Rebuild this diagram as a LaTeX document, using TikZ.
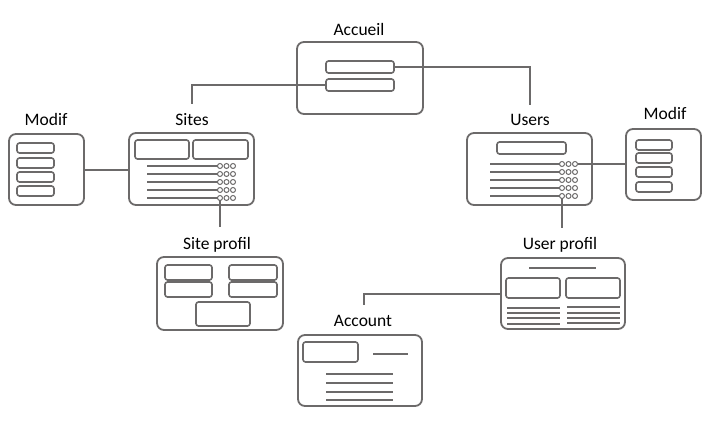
\documentclass[tikz,border=0pt]{standalone}
\usepackage{fontspec}
\setmainfont{Carlito}
\definecolor{ink}{RGB}{108,106,106}
\begin{document}
\begin{tikzpicture}[x=1pt,y=-1pt,
  frame/.style={draw=ink, line width=1.8pt, rounded corners=7pt, inner sep=0pt, outer sep=0pt, anchor=north west},
  field/.style={draw=ink, line width=1.6pt, rounded corners=2.5pt, inner sep=0pt, outer sep=0pt, anchor=north west},
  lbl/.style={font=\fontsize{17.5}{20}\selectfont, anchor=base, inner sep=0pt, text=black},
  wire/.style={draw=ink, line width=1.8pt},
  txt/.style={draw=ink, line width=1.6pt},
  dot/.style={circle, draw=ink, line width=1pt, minimum size=5pt, inner sep=0pt, outer sep=0pt}]
\useasboundingbox (0,0) rectangle (713,430);

% ---------- Accueil
\node[lbl] (accL) at (359,36) {Accueil};
\node[frame, minimum width=126pt, minimum height=72pt] (acc) at (297,42) {};
\node[field, minimum width=68pt, minimum height=12pt] (acc1) at (326,61) {};
\node[field, minimum width=68pt, minimum height=12pt] (acc2) at (326,79) {};

% ---------- Sites
\node[lbl] (sitesL) at (192,126) {Sites};
\node[frame, minimum width=125pt, minimum height=72pt] (sites) at (129,133) {};
\node[field, minimum width=54pt, minimum height=19pt] (sitesA) at (135,140) {};
\node[field, minimum width=55pt, minimum height=19pt] (sitesB) at (193,140) {};
\foreach \y/\n in {166/1,174/2,182/3,190/4,198/5}{
  \draw[txt] (147,\y) -- (217.5,\y);
  \node[dot] (sc\n a) at (220,\y) {};
  \node[dot] (sc\n b) at (226.5,\y) {};
  \node[dot] (sc\n c) at (233,\y) {};
}

% ---------- Modif (left)
\node[lbl] (modLL) at (46,126) {Modif};
\node[frame, minimum width=75pt, minimum height=71pt] (modL) at (9,134) {};
\foreach \y in {143,158,172,186}
  \node[field, minimum width=37pt, minimum height=10pt] at (17,\y) {};

% ---------- Users
\node[lbl] (usersL) at (530,126) {Users};
\node[frame, minimum width=125pt, minimum height=72pt] (users) at (467,133) {};
\node[field, minimum width=69pt, minimum height=12pt] (usersA) at (497,142) {};
\foreach \y/\n in {164/1,172/2,180/3,188/4,196/5}{
  \draw[txt] (490,\y) -- (559.5,\y);
  \node[dot] (uc\n a) at (562,\y) {};
  \node[dot] (uc\n b) at (568.5,\y) {};
  \node[dot] (uc\n c) at (575,\y) {};
}

% ---------- Modif (right)
\node[lbl] (modRL) at (665,120) {Modif};
\node[frame, minimum width=75pt, minimum height=71pt] (modR) at (626,129) {};
\foreach \y in {140,153,167,182}
  \node[field, minimum width=36pt, minimum height=10pt] at (636,\y) {};

% ---------- Site profil
\node[lbl] (spL) at (217,250) {Site profil};
\node[frame, minimum width=126pt, minimum height=73pt] (sp) at (157,257) {};
\node[field, minimum width=47pt, minimum height=15pt] at (165,265) {};
\node[field, minimum width=48pt, minimum height=15pt] at (229,265) {};
\node[field, minimum width=47pt, minimum height=15pt] at (165,282) {};
\node[field, minimum width=48pt, minimum height=15pt] at (229,282) {};
\node[field, minimum width=54pt, minimum height=24pt] at (196,302) {};

% ---------- User profil
\node[lbl] (upL) at (560,250) {User profil};
\node[frame, minimum width=124pt, minimum height=71pt] (up) at (501,258) {};
\draw[txt] (529,268) -- (596,268);
\node[field, minimum width=54pt, minimum height=20pt] at (506,278) {};
\node[field, minimum width=54pt, minimum height=20pt] at (566,278) {};
\foreach \y in {308,313,318,324} \draw[txt, line width=1.4pt] (507,\y) -- (560,\y);
\foreach \y in {307,313,318,323} \draw[txt, line width=1.4pt] (567,\y) -- (620,\y);

% ---------- Account
\node[lbl] (accountL) at (363,327) {Account};
\node[frame, minimum width=124pt, minimum height=71pt] (account) at (298,335) {};
\node[field, minimum width=55pt, minimum height=20pt] at (303,342) {};
\draw[txt] (373,354) -- (408,354);
\foreach \y in {374,383,392,400} \draw[txt] (326,\y) -- (393,\y);

% ---------- connectors
\coordinate (usersTop) at (530,105);
\coordinate (sitesTop) at (192,104);
\coordinate (spTop) at (220,227);
\coordinate (upTop) at (562,228);
\coordinate (accountTop) at (364,305);
\draw[wire] (acc1.east) -| (usersTop);
\draw[wire] (acc2.west) -| (sitesTop);
\draw[wire] (modL.east |- 0,170) -- (sites.west |- 0,170);
\draw[wire] (sc5a.south) -- (spTop);
\draw[wire] (uc5a.south) -- (upTop);
\draw[wire] (uc1c.east) -- (modR.west |- uc1c);
\draw[wire] (up.west |- 0,294) -| (accountTop);
\end{tikzpicture}
\end{document}
